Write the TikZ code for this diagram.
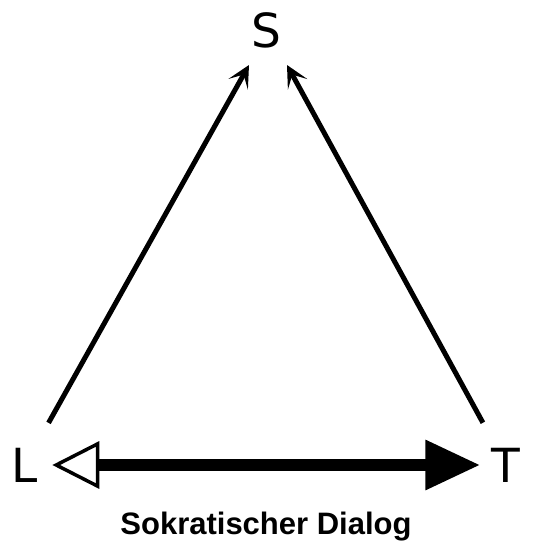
\documentclass[tikz,border=0pt]{standalone}
\usepackage{fontspec}
\setmainfont{DejaVu Sans}
\newfontfamily\capfont{Liberation Sans}
\usetikzlibrary{arrows.meta}

\begin{document}
\begin{tikzpicture}[
  x=1pt, y=-1pt,
  letter/.style={font=\fontsize{47}{47}\selectfont, inner sep=3pt},
  caption/.style={font=\capfont\bfseries\fontsize{31}{31}\selectfont},
  link/.style={line width=5pt, -{Stealth[length=22pt, width=22pt, inset=11pt]}},
  dialog/.style={line width=12pt,
    {Triangle[open, length=47pt, width=47pt, line width=3.5pt]}-{Triangle[length=55pt, width=47pt]}},
]
\useasboundingbox (0,0) rectangle (535,544);

% corners
\node[letter] (S) at (266,30)  {S};
\node[letter] (L) at (25,465)  {L};
\node[letter] (T) at (506,465) {T};
\node[caption] (cap) at (266,527) {Sokratischer Dialog};

% arrow tips below S
\coordinate (sl) at (249,65);
\coordinate (sr) at (287,65);

% connectors
\draw[link, shorten <=25pt] (L) -- (sl);
\draw[link, shorten <=25pt] (T) -- (sr);
\draw[dialog, shorten <=11pt, shorten >=8pt] (L) -- (T);

\end{tikzpicture}
\end{document}
